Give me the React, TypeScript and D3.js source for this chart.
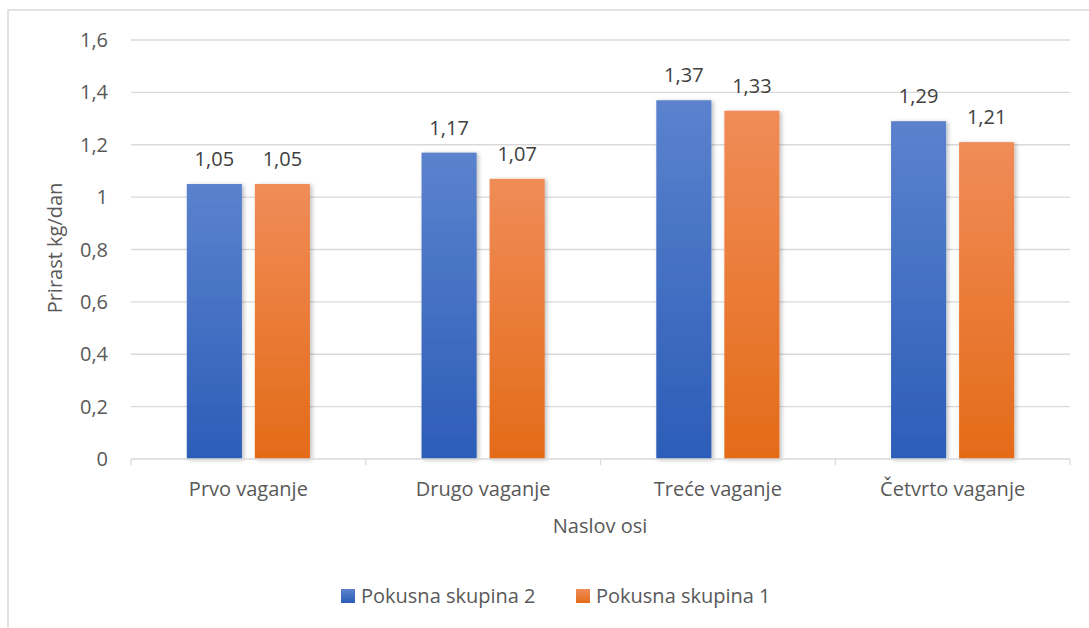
import React, { useRef, useEffect } from 'react';
import * as d3 from 'd3';

const categories = ['Prvo vaganje', 'Drugo vaganje', 'Treće vaganje', 'Četvrto vaganje'];
const seriesNames = ['Pokusna skupina 2', 'Pokusna skupina 1'];
const skupina2 = [1.05, 1.17, 1.37, 1.29];
const skupina1 = [1.05, 1.07, 1.33, 1.21];
const yTicks = [0, 0.2, 0.4, 0.6, 0.8, 1, 1.2, 1.4, 1.6];

const fmt = (v: number) => String(v).replace('.', ',');

const App = () => {
    const ref = useRef<SVGSVGElement>(null);

    useEffect(() => {
        const svg = d3.select(ref.current);
        svg.selectAll('*').remove();

        const W = 1089, H = 628;
        const left = 131, right = 1070, top = 40, bottom = 459;
        const font = "'Open Sans', 'Noto Sans', sans-serif";
        const fs = 20;

        svg.attr('width', W).attr('height', H);

        const defs = svg.append('defs');
        const grads = [
            { id: 'gBlue', top: '#5b82cd', bottom: '#2c5db8' },
            { id: 'gOrange', top: '#f08c58', bottom: '#e46b18' },
        ];
        grads.forEach((g) => {
            const lg = defs.append('linearGradient').attr('id', g.id)
                .attr('x1', 0).attr('y1', 0).attr('x2', 0).attr('y2', 1);
            lg.append('stop').attr('offset', '0%').attr('stop-color', g.top);
            lg.append('stop').attr('offset', '100%').attr('stop-color', g.bottom);
        });
        const f = defs.append('filter').attr('id', 'shadow')
            .attr('x', '-20%').attr('y', '-10%').attr('width', '140%').attr('height', '120%');
        f.append('feDropShadow').attr('dx', 2).attr('dy', 1).attr('stdDeviation', 2)
            .attr('flood-color', '#000').attr('flood-opacity', 0.25);

        // outer border
        svg.append('rect').attr('x', 8).attr('y', 10).attr('width', W).attr('height', H)
            .attr('fill', '#fff').attr('stroke', '#d9d9d9').attr('stroke-width', 1.5);

        const x = d3.scaleBand().domain(categories).range([left, right]);
        const xInner = d3.scaleBand().domain(seriesNames).range([0, x.bandwidth()])
            .paddingInner(0.19).paddingOuter(0.82);
        const y = d3.scaleLinear().domain([0, 1.6]).range([bottom, top]);

        // gridlines
        svg.append('g').selectAll('line').data(yTicks.slice(1)).join('line')
            .attr('x1', left).attr('x2', right)
            .attr('y1', (d) => y(d)).attr('y2', (d) => y(d))
            .attr('stroke', '#d9d9d9').attr('stroke-width', 1.3);

        // y tick labels
        svg.append('g').selectAll('text').data(yTicks).join('text')
            .attr('x', 108).attr('y', (d) => y(d)).attr('dy', '0.35em')
            .attr('text-anchor', 'end').attr('font-family', font).attr('font-size', fs)
            .attr('fill', '#595959').text((d) => fmt(d));

        // bars
        const series = [skupina2, skupina1];
        const fills = ['url(#gBlue)', 'url(#gOrange)'];
        series.forEach((vals, si) => {
            const g = svg.append('g');
            g.selectAll('rect').data(vals).join('rect')
                .attr('x', (_, i) => (x(categories[i]) ?? 0) + (xInner(seriesNames[si]) ?? 0))
                .attr('y', (d) => y(d))
                .attr('width', xInner.bandwidth())
                .attr('height', (d) => bottom - y(d))
                .attr('fill', fills[si])
                .attr('filter', 'url(#shadow)');
            g.selectAll('text').data(vals).join('text')
                .attr('x', (_, i) => (x(categories[i]) ?? 0) + (xInner(seriesNames[si]) ?? 0) + xInner.bandwidth() / 2)
                .attr('y', (d) => y(d) - 18)
                .attr('text-anchor', 'middle').attr('font-family', font).attr('font-size', fs)
                .attr('fill', '#404040').text((d) => fmt(d));
        });

        // x axis line and ticks
        const ax = svg.append('g');
        ax.append('line').attr('x1', left).attr('x2', right).attr('y1', bottom).attr('y2', bottom)
            .attr('stroke', '#d9d9d9').attr('stroke-width', 1.3);
        const bounds = categories.map((c) => x(c) ?? 0).concat([right]);
        ax.selectAll('line.tick').data(bounds).join('line').attr('class', 'tick')
            .attr('x1', (d) => d).attr('x2', (d) => d).attr('y1', bottom).attr('y2', bottom + 6)
            .attr('stroke', '#d9d9d9').attr('stroke-width', 1.3);
        ax.selectAll('text').data(categories).join('text')
            .attr('x', (d) => (x(d) ?? 0) + x.bandwidth() / 2).attr('y', 496)
            .attr('text-anchor', 'middle').attr('font-family', font).attr('font-size', fs)
            .attr('fill', '#595959').text((d) => d);

        // axis titles
        svg.append('text').attr('x', 600).attr('y', 533).attr('text-anchor', 'middle')
            .attr('font-family', font).attr('font-size', fs).attr('fill', '#595959').text('Naslov osi');
        svg.append('text').attr('transform', 'translate(62,248) rotate(-90)').attr('text-anchor', 'middle')
            .attr('font-family', font).attr('font-size', fs).attr('fill', '#595959').text('Prirast kg/dan');

        // legend
        const legendX = [341, 576];
        const lg = svg.append('g');
        seriesNames.forEach((n, i) => {
            lg.append('rect').attr('x', legendX[i]).attr('y', 589).attr('width', 14).attr('height', 14)
                .attr('fill', fills[i]);
            lg.append('text').attr('x', legendX[i] + 20).attr('y', 596).attr('dy', '0.35em')
                .attr('font-family', font).attr('font-size', fs).attr('fill', '#595959').text(n);
        });
    }, []);

    return <svg ref={ref} style={{ display: 'block', position: 'absolute', left: 0, top: 0 }}></svg>;
};

export default App;
